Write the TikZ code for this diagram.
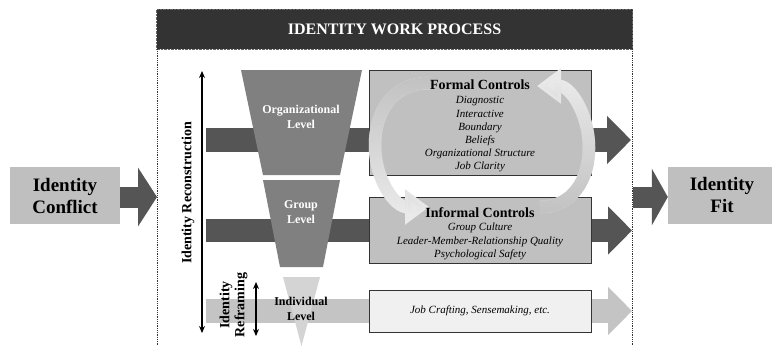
\documentclass[tikz,border=0pt]{standalone}
\usepackage{fontspec}
\setmainfont{Liberation Serif}
\usetikzlibrary{arrows.meta,fadings}

\definecolor{barFill}{HTML}{333333}
\definecolor{bandDark}{HTML}{555555}
\definecolor{bandLight}{HTML}{C4C4C4}
\definecolor{levelDark}{HTML}{808080}
\definecolor{levelLight}{HTML}{D4D4D4}
\definecolor{ctrlFill}{HTML}{C0C0C0}
\definecolor{softFill}{HTML}{F0F0F0}
\definecolor{endFill}{HTML}{BFBFBF}
\definecolor{loopDark}{HTML}{C2C2C2}
\definecolor{loopLight}{HTML}{EAEAEA}

\begin{document}
\begin{tikzpicture}[x=1pt,y=1pt,
  titlebar/.style={draw=black!60, densely dotted, fill=barFill, text=white,
    font=\bfseries\fontsize{16}{18}\selectfont, minimum width=476, minimum height=40, inner sep=0},
  divider/.style={densely dotted, line width=0.8, draw=black!80},
  band/.style={line width=#1, -{Triangle[width=47pt,length=24pt]}},
  bigArrow/.style={draw=bandDark, line width=21},
  ctrlbox/.style={draw=black!80, line width=0.8, fill=ctrlFill, minimum width=222, inner sep=0},
  head/.style={font=\bfseries\fontsize{14}{16}\selectfont, inner sep=0},
  items/.style={font=\itshape\fontsize{11}{13.2}\selectfont, align=center, inner sep=0},
  lbl/.style={font=\bfseries\fontsize{12}{15}\selectfont, align=center, inner sep=0},
  endbox/.style={fill=endFill, minimum height=57, align=center, inner sep=0,
    font=\bfseries\fontsize{19}{22}\selectfont},
  dbl/.style={line width=1.1, {Stealth[length=7pt,width=6pt]}-{Stealth[length=7pt,width=6pt]}},
  loopPath/.style={line width=12.5, -{Triangle[width=34pt,length=24pt]}},
]
\useasboundingbox (0,0) rectangle (772,-346);

% header bar and the two dotted dividers
\node[titlebar] (title) at (394.5,-29) {IDENTITY WORK PROCESS};
\coordinate (divL) at (157,-346);
\coordinate (divR) at (632,-346);
\draw[divider] (title.south west -| divL) -- (divL);
\draw[divider] (title.south east -| divR) -- (divR);

% level bands
\coordinate (orgIn) at (206,-140);
\coordinate (orgOut) at (631,-140);
\coordinate (grpIn) at (206,-230.5);
\coordinate (grpOut) at (632,-230.5);
\coordinate (indIn) at (206,-311);
\coordinate (indOut) at (632,-311);
\draw[band=24, draw=bandDark] (orgIn) -- (orgOut);
\draw[band=23, draw=bandDark] (grpIn) -- (grpOut);
\draw[band=24, draw=bandLight] (indIn) -- (indOut);

% funnel of levels
\fill[levelDark] (241,-70) -- (362,-70) -- (340,-175) -- (263,-175) -- cycle;
\fill[levelDark] (263,-180) -- (340,-180) -- (323,-267) -- (280,-267) -- cycle;
\fill[levelLight] (283,-277) -- (320,-277) -- (301.5,-346) -- cycle;

% control boxes
\node[ctrlbox, minimum height=105] (formal) at (480,-122.5) {};
\node[ctrlbox, minimum height=66] (informal) at (480,-230) {};
\node[ctrlbox, fill=softFill, minimum height=42, font=\itshape\fontsize{11}{13.2}\selectfont]
  (crafting) at (480,-311) {Job Crafting, Sensemaking, etc.};

% loop between formal and informal controls
\coordinate (fStart) at (430,-83);
\coordinate (fMid) at (375,-145);
\coordinate (fEnd) at (429,-207);
\coordinate (iStart) at (540,-207);
\coordinate (iMid) at (589,-148);
\coordinate (iEnd) at (537,-86);
\draw[loopPath, draw=loopLight] (fStart) .. controls (392,-83) and (375,-112) .. (fMid)
  .. controls (375,-180) and (395,-207) .. (fEnd);
\draw[loopPath, draw=loopDark, path fading=south] (fStart) .. controls (392,-83) and (375,-112) .. (fMid)
  .. controls (375,-180) and (395,-207) .. (fEnd);
\draw[loopPath, draw=loopLight] (iStart) .. controls (572,-207) and (589,-180) .. (iMid)
  .. controls (589,-114) and (570,-86) .. (iEnd);
\draw[loopPath, draw=loopDark, path fading=north] (iStart) .. controls (572,-207) and (589,-180) .. (iMid)
  .. controls (589,-114) and (570,-86) .. (iEnd);

% control box texts
\node[head, anchor=base] (formalT) at (480,-89) {Formal Controls};
\node[items] (formalL) at (480,-134.5) {Diagnostic\\Interactive\\Boundary\\Beliefs\\Organizational Structure\\Job Clarity};
\node[head, anchor=base] (informalT) at (480,-217) {Informal Controls};
\node[items] (informalL) at (480,-241.5) {Group Culture\\Leader-Member-Relationship Quality\\Psychological Safety};

% level labels
\node[lbl, text=white] (orgL) at (301,-117) {Organizational\\Level};
\node[lbl, text=white] (grpL) at (301,-212.5) {Group\\Level};
\node[lbl] (indL) at (301,-308.5) {Individual\\Level};

% input and output
\node[endbox, minimum width=110] (conflict) at (65,-195.5) {Identity\\Conflict};
\coordinate (conflictTip) at (157,-197);
\draw[bigArrow, -{Triangle[width=58pt,length=19pt]}] (conflict.east |- conflictTip) -- (conflictTip);
\node[endbox, minimum width=108] (fit) at (722,-195) {Identity\\Fit};
\coordinate (fitStart) at (633,-197);
\draw[bigArrow, -{Triangle[width=56pt,length=16pt]}] (fitStart) -- (fit.west |- fitStart);

% reconstruction and reframing ranges
\coordinate (recTop) at (202,-71);
\coordinate (recBot) at (202,-333);
\draw[dbl] (recTop) -- (recBot);
\node[rotate=90, inner sep=0, font=\bfseries\fontsize{14}{16}\selectfont] (recL) at (188,-193) {Identity Reconstruction};
\coordinate (refTop) at (256,-282);
\coordinate (refBot) at (256,-336);
\draw[dbl] (refTop) -- (refBot);
\node[rotate=90, align=center, inner sep=0, font=\bfseries\fontsize{14}{15}\selectfont] (refL) at (233.5,-305) {Identity\\Reframing};
\end{tikzpicture}
\end{document}
